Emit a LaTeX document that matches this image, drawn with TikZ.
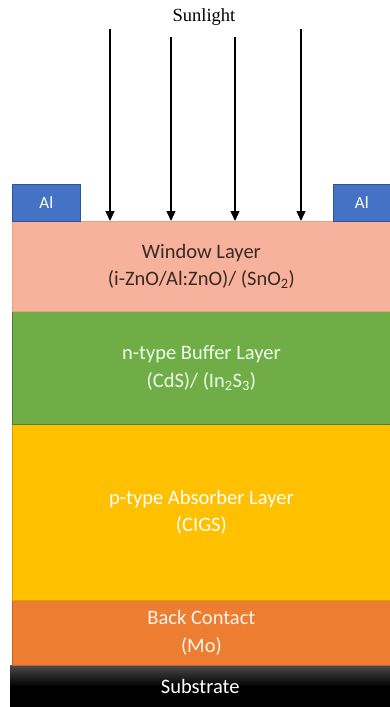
\documentclass[tikz,border=0pt]{standalone}
\usepackage{fontspec}
\setmainfont{Carlito}
\newfontfamily\serifsun{Liberation Serif}
\usetikzlibrary{arrows.meta}
\definecolor{winC}{HTML}{F6B29C}
\definecolor{winB}{HTML}{E9A07F}
\definecolor{bufC}{HTML}{70AD47}
\definecolor{bufB}{HTML}{4E7F2E}
\definecolor{absC}{HTML}{FFC000}
\definecolor{absB}{HTML}{D9A000}
\definecolor{bcC}{HTML}{ED7D31}
\definecolor{bcB}{HTML}{C9621E}
\definecolor{alC}{HTML}{4472C4}
\definecolor{alB}{HTML}{2F5597}
\definecolor{wtxt}{HTML}{3A2A22}
\tikzset{
  layer/.style={minimum width=378pt, inner sep=0pt, anchor=north west, align=center, font=\fontsize{20.5}{27.5}\selectfont, line width=0.8pt},
  alpad/.style={inner sep=0pt, anchor=north west, fill=alC, draw=alB, line width=0.6pt, text=white, font=\fontsize{17}{20}\selectfont},
  ray/.style={line width=1.3pt, -{Triangle[width=9pt,length=10pt]}}
}
\begin{document}
\begin{tikzpicture}[x=1pt,y=-1pt]
\useasboundingbox (0,0) rectangle (390,707);
\fill[white] (0,0) rectangle (390,707);
% substrate
\node[anchor=north west, minimum width=380pt, minimum height=42pt, inner sep=0pt, top color=black!70, bottom color=black, middle color=black, shading angle=0, text=white, font=\fontsize{20.5}{22}\selectfont] (sub) at (10,665) {Substrate};
% layers
\node[layer, fill=bcC, draw=bcB, minimum height=65pt, text=white!92!orange] (bc) at (12,600) {Back Contact\\(Mo)};
\node[layer, fill=absC, draw=absB, minimum height=176pt, text=white] (abs) at (12,424) {p-type Absorber Layer\\(CIGS)};
\node[layer, fill=bufC, draw=bufB, minimum height=113pt, text=white!92!green] (buf) at (12,311) {n-type Buffer Layer\\(CdS)/ (In\textsubscript{2}S\textsubscript{3})};
\node[layer, fill=winC, draw=winB, minimum height=90pt, text=wtxt] (win) at (12,221) {Window Layer\\(i-ZnO/Al:ZnO)/ (SnO\textsubscript{2})};
% Al contacts
\node[alpad, minimum width=68pt, minimum height=37pt] (all) at (12,184) {Al};
\node[alpad, minimum width=57pt, minimum height=37pt] (alr) at (333,184) {Al};
% sunlight label
\node[fill=white, inner sep=4pt, font=\serifsun\fontsize{18.5}{20}\selectfont] (sun) at (204,17) {Sunlight};
% rays
\coordinate (s1) at (110,29);
\coordinate (s2) at (171,37);
\coordinate (s3) at (235,37);
\coordinate (s4) at (301,29);
\coordinate (e1) at (110,221);
\coordinate (e2) at (171,221);
\coordinate (e3) at (235,221);
\coordinate (e4) at (301,221);
\draw[ray] (s1) -- (e1);
\draw[ray] (s2) -- (e2);
\draw[ray] (s3) -- (e3);
\draw[ray] (s4) -- (e4);
\end{tikzpicture}
\end{document}
